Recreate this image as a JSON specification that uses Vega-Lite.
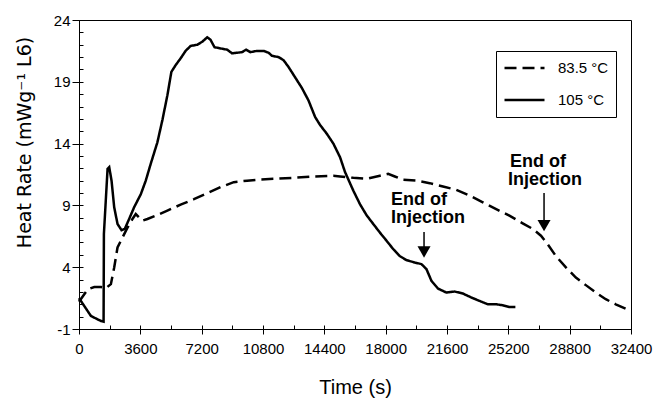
{
  "$schema": "https://vega.github.io/schema/vega-lite/v6.json",
  "width": 552,
  "height": 309,
  "autosize": {"type": "none"},
  "padding": {"left": 79, "top": 20, "right": 22, "bottom": 72},
  "background": "white",
  "config": {
    "view": {"stroke": "black", "strokeWidth": 1},
    "font": "Liberation Sans",
    "axis": {
      "domainColor": "black", "tickColor": "black", "labelColor": "black", "titleColor": "black",
      "grid": false, "labelFont": "Liberation Sans", "titleFont": "Liberation Sans", "titleFontWeight": "normal",
      "domainWidth": 1, "tickWidth": 1
    }
  },
  "datasets": {
    "curves": [
      {"series": "105 °C", "t": 0, "hr": 1.5}, {"series": "105 °C", "t": 702, "hr": 0.05}, {"series": "105 °C", "t": 1287, "hr": -0.35}, {"series": "105 °C", "t": 1443, "hr": -0.4},
      {"series": "105 °C", "t": 1462, "hr": 6.7}, {"series": "105 °C", "t": 1677, "hr": 11.96}, {"series": "105 °C", "t": 1774, "hr": 12.1}, {"series": "105 °C", "t": 1910, "hr": 11.0},
      {"series": "105 °C", "t": 2066, "hr": 8.85}, {"series": "105 °C", "t": 2261, "hr": 7.5}, {"series": "105 °C", "t": 2495, "hr": 7.0}, {"series": "105 °C", "t": 2690, "hr": 7.1},
      {"series": "105 °C", "t": 2943, "hr": 7.9}, {"series": "105 °C", "t": 3236, "hr": 8.85}, {"series": "105 °C", "t": 3626, "hr": 9.9}, {"series": "105 °C", "t": 3918, "hr": 11.0},
      {"series": "105 °C", "t": 4211, "hr": 12.37}, {"series": "105 °C", "t": 4600, "hr": 14.1}, {"series": "105 °C", "t": 4894, "hr": 15.9}, {"series": "105 °C", "t": 5187, "hr": 17.9},
      {"series": "105 °C", "t": 5421, "hr": 19.8}, {"series": "105 °C", "t": 5673, "hr": 20.35}, {"series": "105 °C", "t": 5965, "hr": 20.9}, {"series": "105 °C", "t": 6257, "hr": 21.5},
      {"series": "105 °C", "t": 6550, "hr": 21.9}, {"series": "105 °C", "t": 6940, "hr": 22.0}, {"series": "105 °C", "t": 7233, "hr": 22.24}, {"series": "105 °C", "t": 7526, "hr": 22.6},
      {"series": "105 °C", "t": 7720, "hr": 22.4}, {"series": "105 °C", "t": 7953, "hr": 21.8}, {"series": "105 °C", "t": 8304, "hr": 21.7}, {"series": "105 °C", "t": 8695, "hr": 21.6},
      {"series": "105 °C", "t": 8988, "hr": 21.3}, {"series": "105 °C", "t": 9281, "hr": 21.35}, {"series": "105 °C", "t": 9573, "hr": 21.4}, {"series": "105 °C", "t": 9807, "hr": 21.6},
      {"series": "105 °C", "t": 10059, "hr": 21.4}, {"series": "105 °C", "t": 10450, "hr": 21.5}, {"series": "105 °C", "t": 10838, "hr": 21.5}, {"series": "105 °C", "t": 11129, "hr": 21.35},
      {"series": "105 °C", "t": 11327, "hr": 21.1}, {"series": "105 °C", "t": 11714, "hr": 21.0}, {"series": "105 °C", "t": 12006, "hr": 20.75}, {"series": "105 °C", "t": 12298, "hr": 20.2},
      {"series": "105 °C", "t": 12690, "hr": 19.35}, {"series": "105 °C", "t": 13082, "hr": 18.5}, {"series": "105 °C", "t": 13468, "hr": 17.5}, {"series": "105 °C", "t": 13860, "hr": 16.15},
      {"series": "105 °C", "t": 14152, "hr": 15.5}, {"series": "105 °C", "t": 14544, "hr": 14.8}, {"series": "105 °C", "t": 14930, "hr": 14.0}, {"series": "105 °C", "t": 15322, "hr": 12.9},
      {"series": "105 °C", "t": 15614, "hr": 11.7}, {"series": "105 °C", "t": 16100, "hr": 10.2}, {"series": "105 °C", "t": 16491, "hr": 9.1}, {"series": "105 °C", "t": 16883, "hr": 8.2},
      {"series": "105 °C", "t": 17270, "hr": 7.5}, {"series": "105 °C", "t": 17661, "hr": 6.8}, {"series": "105 °C", "t": 18053, "hr": 6.14}, {"series": "105 °C", "t": 18440, "hr": 5.47},
      {"series": "105 °C", "t": 18831, "hr": 4.9}, {"series": "105 °C", "t": 19222, "hr": 4.57}, {"series": "105 °C", "t": 19708, "hr": 4.38}, {"series": "105 °C", "t": 20100, "hr": 4.25},
      {"series": "105 °C", "t": 20392, "hr": 3.85}, {"series": "105 °C", "t": 20685, "hr": 2.9}, {"series": "105 °C", "t": 21071, "hr": 2.27}, {"series": "105 °C", "t": 21562, "hr": 1.95},
      {"series": "105 °C", "t": 22048, "hr": 2.03}, {"series": "105 °C", "t": 22533, "hr": 1.87}, {"series": "105 °C", "t": 23024, "hr": 1.55}, {"series": "105 °C", "t": 23510, "hr": 1.27},
      {"series": "105 °C", "t": 23995, "hr": 1.0}, {"series": "105 °C", "t": 24485, "hr": 1.0}, {"series": "105 °C", "t": 24872, "hr": 0.92}, {"series": "105 °C", "t": 25264, "hr": 0.78},
      {"series": "105 °C", "t": 25614, "hr": 0.78},
      {"series": "83.5 °C", "t": 0, "hr": 1.2}, {"series": "83.5 °C", "t": 507, "hr": 2.2}, {"series": "83.5 °C", "t": 897, "hr": 2.4}, {"series": "83.5 °C", "t": 1287, "hr": 2.4},
      {"series": "83.5 °C", "t": 1579, "hr": 2.3}, {"series": "83.5 °C", "t": 1871, "hr": 2.63}, {"series": "83.5 °C", "t": 2066, "hr": 3.98}, {"series": "83.5 °C", "t": 2261, "hr": 5.6},
      {"series": "83.5 °C", "t": 2554, "hr": 6.4}, {"series": "83.5 °C", "t": 2846, "hr": 7.2}, {"series": "83.5 °C", "t": 3138, "hr": 7.9}, {"series": "83.5 °C", "t": 3333, "hr": 8.3},
      {"series": "83.5 °C", "t": 3528, "hr": 8.03}, {"series": "83.5 °C", "t": 3723, "hr": 7.77}, {"series": "83.5 °C", "t": 4016, "hr": 7.9}, {"series": "83.5 °C", "t": 4503, "hr": 8.17},
      {"series": "83.5 °C", "t": 5187, "hr": 8.58}, {"series": "83.5 °C", "t": 5965, "hr": 9.06}, {"series": "83.5 °C", "t": 6745, "hr": 9.5}, {"series": "83.5 °C", "t": 7526, "hr": 9.98},
      {"series": "83.5 °C", "t": 8304, "hr": 10.47}, {"series": "83.5 °C", "t": 9082, "hr": 10.88}, {"series": "83.5 °C", "t": 9866, "hr": 11.0}, {"series": "83.5 °C", "t": 10643, "hr": 11.1},
      {"series": "83.5 °C", "t": 11421, "hr": 11.15}, {"series": "83.5 °C", "t": 12591, "hr": 11.23}, {"series": "83.5 °C", "t": 13760, "hr": 11.34}, {"series": "83.5 °C", "t": 14930, "hr": 11.4},
      {"series": "83.5 °C", "t": 15322, "hr": 11.34}, {"series": "83.5 °C", "t": 16100, "hr": 11.23}, {"series": "83.5 °C", "t": 16883, "hr": 11.15}, {"series": "83.5 °C", "t": 17661, "hr": 11.4},
      {"series": "83.5 °C", "t": 18147, "hr": 11.55}, {"series": "83.5 °C", "t": 18538, "hr": 11.34}, {"series": "83.5 °C", "t": 19024, "hr": 11.07}, {"series": "83.5 °C", "t": 19807, "hr": 11.0},
      {"series": "83.5 °C", "t": 20585, "hr": 10.8}, {"series": "83.5 °C", "t": 21363, "hr": 10.53}, {"series": "83.5 °C", "t": 22147, "hr": 10.26}, {"series": "83.5 °C", "t": 22925, "hr": 9.8},
      {"series": "83.5 °C", "t": 23702, "hr": 9.25}, {"series": "83.5 °C", "t": 24485, "hr": 8.7}, {"series": "83.5 °C", "t": 25264, "hr": 8.17}, {"series": "83.5 °C", "t": 26042, "hr": 7.55},
      {"series": "83.5 °C", "t": 26627, "hr": 7.1}, {"series": "83.5 °C", "t": 27115, "hr": 6.55}, {"series": "83.5 °C", "t": 27503, "hr": 5.87}, {"series": "83.5 °C", "t": 27994, "hr": 4.9},
      {"series": "83.5 °C", "t": 28579, "hr": 3.98}, {"series": "83.5 °C", "t": 29164, "hr": 3.16}, {"series": "83.5 °C", "t": 29749, "hr": 2.55}, {"series": "83.5 °C", "t": 30334, "hr": 1.95},
      {"series": "83.5 °C", "t": 30919, "hr": 1.41}, {"series": "83.5 °C", "t": 31503, "hr": 1.0}, {"series": "83.5 °C", "t": 32281, "hr": 0.52}
    ],
    "labels": [
      {"t": 18314, "hr": 9.44, "text": "End of"},
      {"t": 18314, "hr": 7.98, "text": "Injection"},
      {"t": 25300, "hr": 12.51, "text": "End of"},
      {"t": 25183, "hr": 11.06, "text": "Injection"}
    ],
    "arrows": [
      {"t": 20252, "top": 6.85, "end": 5.63, "head": 5.23},
      {"t": 27296, "top": 10.0, "end": 7.8, "head": 7.37}
    ]
  },
  "layer": [
    {
      "data": {"name": "curves"},
      "mark": {"type": "line", "color": "black", "strokeWidth": 2.5},
      "encoding": {
        "x": {
          "field": "t", "type": "quantitative",
          "scale": {"domain": [0, 32400], "nice": false, "zero": false},
          "axis": {
            "orient": "bottom",
            "values": [0, 3600, 7200, 10800, 14400, 18000, 21600, 25200, 28800, 32400],
            "format": "d", "title": "Time (s)", "tickSize": 5, "labelFontSize": 15, "labelPadding": 7,
            "titleFontSize": 20, "titlePadding": 21, "labelFlush": false, "labelOverlap": false
          }
        },
        "y": {
          "field": "hr", "type": "quantitative",
          "scale": {"domain": [-1, 24], "nice": false, "zero": false},
          "axis": {
            "orient": "left",
            "values": [-1, 4, 9, 14, 19, 24],
            "labelExpr": "'' + datum.value", "title": "Heat Rate (mWg⁻¹ L6)", "tickSize": 7, "labelFontSize": 15, "labelPadding": 2,
            "titleFont": "DejaVu Sans", "titleFontSize": 19, "titleX": -45, "titleY": 122, "labelFlush": false, "labelOverlap": false
          }
        },
        "strokeDash": {
          "field": "series", "type": "nominal",
          "scale": {"domain": ["83.5 °C", "105 °C"], "range": [[12, 6], [1, 0]]},
          "legend": {
            "orient": "none", "legendX": 417, "legendY": 31, "title": null,
            "strokeColor": "black", "fillColor": "white", "padding": 7,
            "symbolType": "stroke", "symbolSize": 1600, "symbolStrokeWidth": 2.5, "symbolStrokeColor": "black",
            "clipHeight": 20,
            "labelFontSize": 15, "labelFont": "Liberation Sans", "labelColor": "black", "rowPadding": 12, "labelOffset": 12
          }
        }
      }
    },
    {
      "data": {"name": "curves"},
      "mark": {"type": "line", "opacity": 0},
      "encoding": {
        "x": {
          "field": "t", "type": "quantitative",
          "axis": {
            "orient": "bottom", "values": [0, 1800, 3600, 5400, 7200, 9000, 10800, 12600, 14400, 16200, 18000, 19800, 21600, 23400, 25200, 27000, 28800, 30600, 32400],
            "tickSize": -4, "labels": false, "domain": false, "title": null
          }
        },
        "y": {
          "field": "hr", "type": "quantitative",
          "axis": {
            "orient": "left", "values": [-1, 0, 1, 2, 3, 4, 5, 6, 7, 8, 9, 10, 11, 12, 13, 14, 15, 16, 17, 18, 19, 20, 21, 22, 23, 24],
            "tickSize": -4, "labels": false, "domain": false, "title": null
          }
        }
      }
    },
    {
      "data": {"name": "labels"},
      "mark": {"type": "text", "align": "left", "baseline": "middle", "fontWeight": "bold", "fontSize": 18, "font": "Liberation Sans", "color": "black"},
      "encoding": {
        "x": {"field": "t", "type": "quantitative", "axis": null},
        "y": {"field": "hr", "type": "quantitative", "axis": null},
        "text": {"field": "text"}
      }
    },
    {
      "data": {"name": "arrows"},
      "mark": {"type": "rule", "color": "black", "strokeWidth": 1.5},
      "encoding": {
        "x": {"field": "t", "type": "quantitative", "axis": null},
        "y": {"field": "top", "type": "quantitative", "axis": null},
        "y2": {"field": "end"}
      }
    },
    {
      "data": {"name": "arrows"},
      "mark": {"type": "point", "shape": "triangle-down", "filled": true, "color": "black", "opacity": 1, "size": 170},
      "encoding": {
        "x": {"field": "t", "type": "quantitative", "axis": null},
        "y": {"field": "head", "type": "quantitative", "axis": null}
      }
    }
  ],
  "resolve": {"axis": {"x": "independent", "y": "independent"}}
}
